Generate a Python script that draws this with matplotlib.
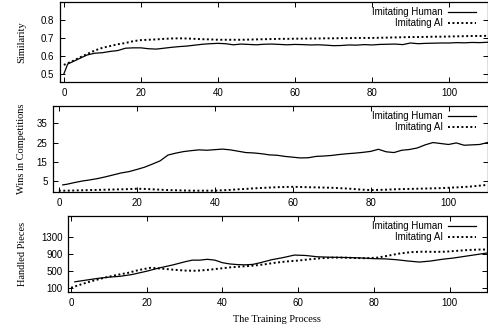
import matplotlib
matplotlib.use("Agg")
import matplotlib.pyplot as plt

# similarity panel
sim_x = [0, 1, 2, 4, 6, 8, 10, 12, 14, 16, 18, 20, 22, 24, 26, 28, 30, 32, 34, 36, 38,
         40, 42, 44, 46, 48, 50, 52, 54, 56, 58, 60, 62, 64, 66, 68, 70, 72, 74, 76, 78,
         80, 82, 84, 86, 88, 90, 92, 94, 96, 98, 100, 102, 104, 106, 108, 110]
sim_human = [0.50, 0.555, 0.565, 0.585, 0.605, 0.615, 0.618, 0.625, 0.63, 0.643, 0.645,
             0.645, 0.64, 0.638, 0.643, 0.648, 0.652, 0.655, 0.66, 0.665, 0.668,
             0.67, 0.668, 0.662, 0.666, 0.664, 0.662, 0.665, 0.666, 0.664, 0.662,
             0.664, 0.663, 0.661, 0.662, 0.66, 0.657, 0.658, 0.661, 0.66, 0.663,
             0.661, 0.664, 0.665, 0.666, 0.663, 0.672, 0.668, 0.67, 0.671, 0.672,
             0.672, 0.674, 0.673, 0.675, 0.674, 0.676]
sim_ai = [0.55, 0.56, 0.568, 0.59, 0.61, 0.63, 0.645, 0.655, 0.665, 0.672, 0.682,
          0.688, 0.69, 0.692, 0.695, 0.697, 0.698, 0.697, 0.695, 0.693, 0.692,
          0.69, 0.69, 0.69, 0.69, 0.691, 0.692, 0.693, 0.694, 0.695, 0.695,
          0.696, 0.696, 0.697, 0.697, 0.698, 0.698, 0.699, 0.699, 0.7, 0.7,
          0.7, 0.701, 0.702, 0.703, 0.704, 0.705, 0.705, 0.706, 0.707, 0.707,
          0.708, 0.709, 0.71, 0.711, 0.711, 0.712]

# wins panel
win_human_x = [1, 2, 4, 6, 8, 10, 12, 14, 16, 18, 20, 22, 24, 26, 28, 30, 32, 34, 36, 38,
               40, 42, 44, 46, 48, 50, 52, 54, 56, 58, 60, 62, 64, 66, 68, 70, 72, 74, 76, 78,
               80, 82, 84, 86, 88, 90, 92, 94, 96, 98, 100, 102, 104, 106, 108, 110]
win_human = [3, 3.3, 4.2, 5, 5.6, 6.3, 7.2, 8.2, 9.2, 9.9, 11, 12.2, 13.8, 15.5, 18.5,
             19.5, 20.3, 20.8, 21.2, 21, 21.3, 21.6, 21.2, 20.5, 19.8, 19.6, 19.2, 18.6,
             18.4, 17.8, 17.4, 17.0, 17.1, 17.8, 18, 18.3, 18.8, 19.2, 19.5, 19.9,
             20.4, 21.5, 20.2, 19.8, 21, 21.4, 22.2, 23.8, 25, 24.5, 24, 24.8, 23.6,
             23.8, 24, 25]
win_ai_x = [0, 2, 4, 6, 8, 10, 12, 14, 16, 18, 20, 22, 24, 26, 28, 30, 32, 34, 36, 38,
            40, 42, 44, 46, 48, 50, 52, 54, 56, 58, 60, 62, 64, 66, 68, 70, 72, 74, 76, 78,
            80, 82, 84, 86, 88, 90, 92, 94, 96, 98, 100, 102, 104, 106, 108, 110]
win_ai = [0.0, 0.0, 0.1, 0.2, 0.3, 0.4, 0.5, 0.6, 0.7, 0.8, 1.0, 0.9, 0.7, 0.5, 0.3,
          0.2, 0.1, 0.0, 0.0, 0.0, 0.0, 0.2, 0.4, 0.7, 0.9, 1.2, 1.4, 1.6, 1.8, 1.9,
          2.0, 1.9, 1.8, 1.7, 1.6, 1.5, 1.3, 1.1, 0.8, 0.5, 0.3, 0.4, 0.5, 0.7, 0.8,
          0.9, 1.0, 1.1, 1.2, 1.3, 1.5, 1.7, 1.9, 2.2, 2.6, 3.0]

# handled pieces panel
hp_human_x = [1, 4, 7, 10, 13, 16, 20, 23, 27, 30, 32, 34, 36, 38, 40, 42, 44, 46, 48,
              50, 53, 56, 59, 62, 65, 68, 71, 74, 77, 80, 83, 86, 89, 92, 95, 98, 101,
              104, 107, 110]
hp_human = [250, 290, 330, 360, 380, 420, 500, 570, 650, 720, 760, 760, 780, 760, 700,
            670, 655, 650, 660, 700, 770, 820, 880, 870, 840, 830, 825, 820, 810, 795,
            790, 770, 740, 715, 740, 780, 810, 850, 890, 930]
hp_ai_x = [0, 3, 6, 9, 12, 15, 18, 21, 24, 27, 30, 33, 36, 39, 42, 45, 48, 51, 54, 57,
           60, 63, 66, 69, 72, 75, 78, 81, 84, 87, 90, 93, 96, 99, 102, 105, 108, 110]
hp_ai = [110, 200, 280, 350, 410, 460, 530, 580, 560, 535, 515, 510, 530, 560, 590, 610,
         630, 660, 700, 730, 750, 780, 805, 820, 820, 810, 805, 820, 870, 920, 950, 960,
         955, 960, 980, 1000, 1010, 1010]

W, H = 488.0, 328.0
fig = plt.figure(figsize=(W / 100, H / 100), dpi=100)

sans = ["Liberation Sans", "DejaVu Sans"]
serif = ["Liberation Serif", "DejaVu Serif"]
plt.rcParams["font.family"] = sans
plt.rcParams["font.size"] = 7


def make_axes(left, top, bottom):
    return fig.add_axes([left / W, 1 - bottom / H, (487.5 - left) / W, (bottom - top) / H])


def style(ax, left, top, bottom, ylabel, yticks, ylim):
    ax.set_xlim(-1, 110)
    ax.set_ylim(*ylim)
    ax.set_xticks([0, 20, 40, 60, 80, 100])
    ax.set_yticks(yticks)
    ax.tick_params(direction="in", top=True, right=True, length=3.5, width=0.7,
                   labelsize=7, pad=4)
    for s in ax.spines.values():
        s.set_linewidth(0.9)
    ax.set_ylabel(ylabel, family=serif, fontsize=7.5)
    ax.yaxis.set_label_coords((22 - left) / (487.5 - left), 0.5)
    ax.yaxis.label.set_verticalalignment("center")
    leg = ax.legend(loc="upper right", markerfirst=False, frameon=False,
                    bbox_to_anchor=(476 / W, 1 - (top + 5) / H),
                    bbox_transform=fig.transFigure, borderpad=0, borderaxespad=0,
                    handlelength=2.9, handletextpad=0.5, labelspacing=0.1, fontsize=7)
    return leg


dot = (0, (1.0, 1.3))

ax1 = make_axes(60, 2, 82)
ax1.plot(sim_x, sim_human, color="black", lw=0.9, label="Imitating Human")
ax1.plot(sim_x, sim_ai, color="black", lw=1.4, linestyle=dot, label="Imitating AI")
style(ax1, 60, 2, 82, "Similarity", [0.5, 0.6, 0.7, 0.8], (0.455, 0.9))

ax2 = make_axes(53, 106, 192)
ax2.plot(win_human_x, win_human, color="black", lw=0.9, label="Imitating Human")
ax2.plot(win_ai_x, win_ai, color="black", lw=1.4, linestyle=dot, label="Imitating AI")
style(ax2, 53, 106, 192, "Wins in Competitions", [5, 15, 25, 35], (-0.7, 44))
ax2.set_xlim(-1.5, 110)

ax3 = make_axes(68, 216, 292)
ax3.plot(hp_human_x, hp_human, color="black", lw=0.9, label="Imitating Human")
ax3.plot(hp_ai_x, hp_ai, color="black", lw=1.4, linestyle=dot, label="Imitating AI")
style(ax3, 68, 216, 292, "Handled Pieces", [100, 500, 900, 1300], (10, 1800))
ax3.set_xlim(-0.8, 110)

fig.text(277 / W, 1 - 319 / H, "The Training Process", family=serif, fontsize=7.5,
         ha="center", va="center")

fig.savefig("out.png", dpi=100)
